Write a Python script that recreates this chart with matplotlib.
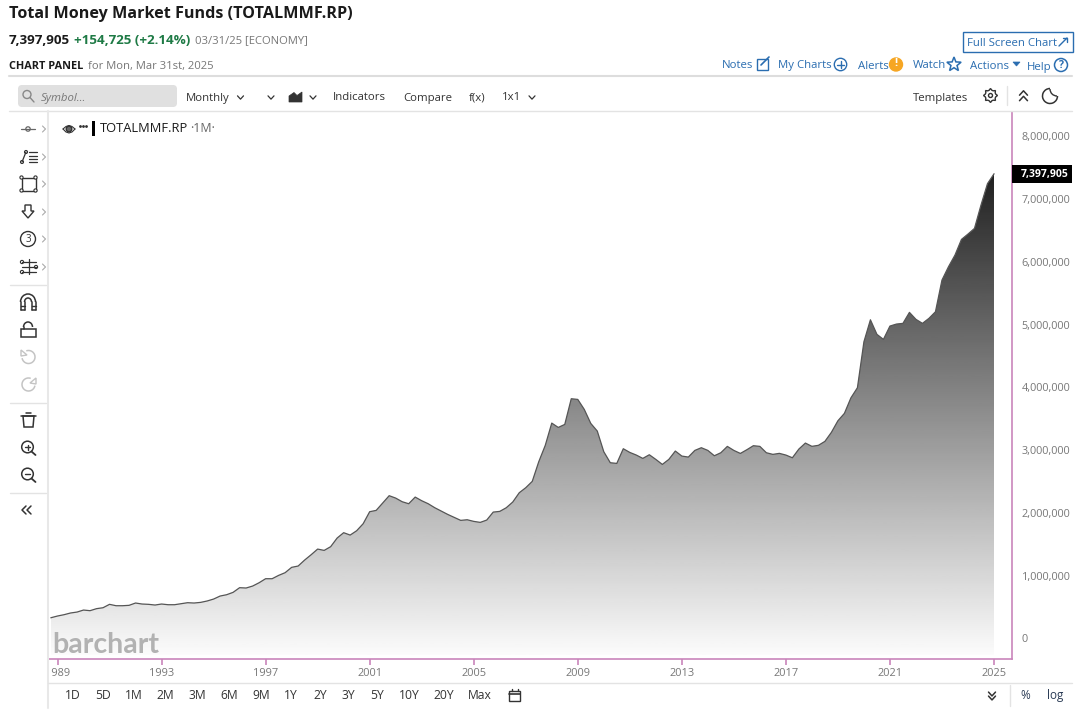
import matplotlib
matplotlib.use('Agg')
import matplotlib.pyplot as plt
import numpy as np
from matplotlib.patches import Rectangle, FancyBboxPatch, Circle, Polygon, Arc

plt.rcParams['font.family'] = ['Open Sans', 'DejaVu Sans']

W, H = 1080, 714

# quarterly values, thousands, 1988 Q4 to 2025 Q1
values_88_97 = [331, 358, 379, 406, 421, 453, 443, 475, 490, 544, 522, 522, 528, 565, 549, 544, 533, 549, 538, 538,
                554, 570, 565, 575, 597, 628, 676, 697, 735, 809, 804, 835, 888, 952, 952, 1005, 1048]
values_98_06 = [1133, 1154, 1249, 1334, 1424, 1403, 1462, 1600, 1685, 1647, 1716, 1828, 2019, 2040, 2157, 2274,
                2236, 2178, 2146, 2252, 2194, 2146, 2083, 2029, 1976, 1929, 1881, 1891, 1865, 1849, 1886, 2013,
                2024, 2082, 2173, 2321]
values_07_15 = [2401, 2502, 2815, 3075, 3430, 3361, 3409, 3818, 3807, 3648, 3425, 3303, 2974, 2799, 2788, 3022,
                2963, 2921, 2868, 2926, 2852, 2772, 2852, 2985, 2905, 2889, 2995, 3038, 2995, 2910, 2958, 3059,
                2995, 2947, 3006, 3070]
values_16_25 = [3059, 2958, 2932, 2948, 2921, 2878, 3017, 3112, 3060, 3076, 3139, 3283, 3467, 3585, 3832, 3993,
                4725, 5075, 4843, 4763, 4975, 5007, 5018, 5193, 5082, 5018, 5098, 5203, 5707, 5919, 6105, 6355,
                6440, 6530, 6901, 7243, 7397.905]
money_funds = np.array(values_88_97 + values_98_06 + values_07_15 + values_16_25) * 1000
start_year = 1988.75
years = start_year + np.arange(len(money_funds)) / 4

year_ticks = [1989, 1993, 1997, 2001, 2005, 2009, 2013, 2017, 2021, 2025]
price_ticks = [0, 1000000, 2000000, 3000000, 4000000, 5000000, 6000000, 7000000, 8000000]
range_buttons = ['1D', '5D', '1M', '2M', '3M', '6M', '9M', '1Y', '2Y', '3Y', '5Y', '10Y', '20Y', 'Max']
range_x = [73, 103, 134, 165, 197, 229, 261, 291, 320, 348, 377, 409, 444, 480]

PURPLE = '#c985bb'
BLUE = '#2a6db0'
INK = '#333333'

fig = plt.figure(figsize=(W / 100, H / 100), dpi=100, facecolor='white')

# main chart, placed in pixels
left, right, top, bottom = 49, 1012, 112, 658.5
ax = fig.add_axes([left / W, 1 - bottom / H, (right - left) / W, (bottom - top) / H])
px_year = 26.0
px_val = 62.8 / 1000000
ax.set_xlim(start_year - 2 / px_year, 2025 + 18 / px_year)
ax.set_ylim(-20 / px_val, (638.5 - top) / px_val)

# gradient under the line
grad = np.linspace(0.13, 0.985, 256).reshape(-1, 1)
im = ax.imshow(grad, cmap='gray', vmin=0, vmax=1, aspect='auto', origin='upper',
               extent=[years[0], years[-1], -264000, money_funds.max()], zorder=1)
verts = np.column_stack([np.r_[years[0], years, years[-1]], np.r_[-264000, money_funds, -264000]])
clip = Polygon(verts, closed=True, transform=ax.transData, facecolor='none', edgecolor='none')
ax.add_patch(clip)
im.set_clip_path(clip)
ax.plot(years, money_funds, color='#555555', lw=0.9, zorder=2)

for s in ['left', 'top']:
    ax.spines[s].set_visible(False)
for s in ['right', 'bottom']:
    ax.spines[s].set_color(PURPLE)
    ax.spines[s].set_linewidth(1.2)

ax.set_xticks(year_ticks)
ax.set_xticklabels([str(y) for y in year_ticks])
ax.set_yticks(price_ticks)
ax.set_yticklabels([f'{p:,}' for p in price_ticks])
ax.yaxis.tick_right()
ax.tick_params(axis='x', length=4, width=1.2, color=PURPLE, labelcolor='#777777', labelsize=7.9, pad=3)
ax.tick_params(axis='y', length=0, labelcolor='#777777', labelsize=7.8, pad=7)

# overlay in pixel coordinates for the page around the chart
ui = fig.add_axes([0, 0, 1, 1], facecolor='none')
ui.set_xlim(0, W)
ui.set_ylim(H, 0)
ui.axis('off')


def txt(x, y, s, size=8.3, color=INK, weight='normal', ha='left', style='normal', family=None):
    return ui.text(x, y + 4, s, fontsize=size, color=color, fontweight=weight, ha=ha, va='center',
                   style=style, family=family or plt.rcParams['font.family'])


def line(xs, ys, color=INK, lw=1.0):
    ui.plot(xs, ys, color=color, lw=lw, solid_capstyle='round')


def ring(x, y, r, color=INK, lw=1.0, fill='none'):
    ui.add_patch(Circle((x, y), r, facecolor=fill, edgecolor=color, lw=lw))


def chevron(x, y, s=3.0, color=INK, lw=0.9, up=False):
    d = -1 if up else 1
    line([x - s, x, x + s], [y - d * s * 0.55, y + d * s * 0.55, y - d * s * 0.55], color, lw)


def side(x, y, color='#aaaaaa'):
    line([x - 1.5, x + 1.5, x - 1.5], [y - 3, y, y + 3], color, 0.8)


# header
txt(9, 9.5, 'Total Money Market Funds (TOTALMMF.RP)', 11.65, '#1a1a1a', 'bold')
txt(9, 36.5, '7,397,905', 9.6, '#1a1a1a', 'bold')
txt(74, 36.5, '+154,725 (+2.14%)', 9.6, '#1e7a45', 'bold')
txt(195, 36.5, '03/31/25 [ECONOMY]', 8.1, '#777777')
txt(9, 62.5, 'CHART PANEL', 7.8, '#1a1a1a', 'bold')
txt(88, 62.5, 'for Mon, Mar 31st, 2025', 8.1, '#777777')

ui.add_patch(Rectangle((962.5, 31.5), 110, 20.5, facecolor='white', edgecolor=BLUE, lw=1))
txt(967, 39.5, 'Full Screen Chart', 8.2, BLUE)
line([1059, 1067], [46, 38], BLUE, 1)
line([1063, 1067, 1067], [38, 38, 42], BLUE, 1)

txt(722, 61.5, 'Notes', 8.2, BLUE)
ui.add_patch(Rectangle((756.5, 59), 11, 11, facecolor='none', edgecolor=BLUE, lw=1))
line([761, 769], [65, 57], BLUE, 1.2)
txt(778, 61.5, 'My Charts', 8.2, BLUE)
ring(840.5, 64.5, 6.2, BLUE, 1)
line([837, 844], [64.5, 64.5], BLUE, 1)
line([840.5, 840.5], [61, 68], BLUE, 1)
txt(858, 62.5, 'Alerts', 8.2, BLUE)
ring(896, 64.5, 6.5, '#f6a623', 1, '#f6a623')
txt(896, 60, '!', 8, 'white', 'bold', 'center')
txt(913, 61.5, 'Watch', 8.2, BLUE)
star_a = np.deg2rad(np.arange(-90, 270, 36))
star_r = np.where(np.arange(10) % 2 == 0, 7.5, 3.2)
ui.add_patch(Polygon(np.column_stack([954 + star_r * np.cos(star_a), 64.5 + star_r * np.sin(star_a)]),
                     closed=True, facecolor='none', edgecolor=BLUE, lw=1.1))
txt(970, 62.5, 'Actions', 8.2, BLUE)
ui.add_patch(Polygon([[1013, 62], [1020, 62], [1016.5, 66]], closed=True, facecolor=BLUE, edgecolor=BLUE, lw=0.5))
txt(1027, 63.5, 'Help', 8.2, BLUE)
ring(1061, 65, 6.5, BLUE, 1.1)
txt(1061, 61, '?', 7.5, BLUE, 'bold', 'center')

line([9, 1072], [76, 76], '#dddddd', 1.5)

# toolbar
ui.add_patch(FancyBboxPatch((20, 87), 155, 18, boxstyle='round,pad=2,rounding_size=4', facecolor='#e0e0e0', edgecolor='none'))
ring(27, 94.5, 4, '#888888', 1)
line([30, 34], [97.5, 102], '#888888', 1)
txt(41, 94, 'Symbol...', 8.2, '#777777', style='italic')
txt(186, 94, 'Monthly', 8.2)
chevron(240.5, 97.5)
chevron(271, 97.5)
ui.add_patch(Polygon([[289, 102], [289, 96], [294, 92.5], [297, 95.5], [302, 92], [302, 102]], closed=True, facecolor=INK, edgecolor=INK, lw=0.5))
chevron(313, 97.5)
txt(333, 94, 'Indicators', 8.2)
txt(403, 94, 'Compare', 8.2)
txt(469, 94, 'f(x)', 8.2)
txt(502, 94, '1x1', 8.2)
chevron(532, 97.5)
txt(913, 94, 'Templates', 8.2)
gear_a = np.deg2rad(np.arange(0, 360, 15))
gear_r = np.where(np.arange(24) % 3 == 0, 7, 5.4)
ui.add_patch(Polygon(np.column_stack([990.5 + gear_r * np.cos(gear_a), 95.5 + gear_r * np.sin(gear_a)]),
                     closed=True, facecolor='none', edgecolor=INK, lw=1))
ring(990.5, 95.5, 2, INK, 1)
line([1006.5, 1006.5], [86, 105], '#e3e3e3', 1)
chevron(1023.5, 93, 4, INK, 1.1, up=True)
chevron(1023.5, 98.5, 4, INK, 1.1, up=True)
ui.add_patch(Arc((1050, 96), 15, 15, theta1=0, theta2=270, color=INK, lw=1.1))
ui.add_patch(Arc((1057, 89), 14, 14, theta1=90, theta2=180, color=INK, lw=1.0))

# the first year label is cut by the tool column
ui.add_patch(Rectangle((30, 662), 17.5, 20, facecolor='white', edgecolor='none'))
line([9, 1072], [111, 111], '#e3e3e3', 1)
line([47.5, 47.5], [111, 708], '#e8e8e8', 1.5)
line([48, 1072], [683, 683], '#e3e3e3', 1)

# legend of the chart
ring(69, 129, 2.8, INK, 1.0, '#666666')
line([63, 66, 69, 72, 75], [129, 126.5, 125.5, 126.5, 129], INK, 0.8)
line([63, 66, 69, 72, 75], [129, 132, 133, 132, 129], INK, 0.8)
ui.plot([80, 83, 86], [126, 126, 126], ls='none', marker='o', ms=1.0, color=INK)
ui.add_patch(Rectangle((92, 121), 3, 15, facecolor='black', edgecolor='none'))
txt(100, 124.5, 'TOTALMMF.RP', 9.3, '#1a1a1a')
txt(190, 124.5, '\u00b71M\u00b7', 9.0, '#666666')

# left tools
line([21, 35], [129, 129], '#666666', 0.9)
ring(28, 129, 2.2, '#666666', 0.9, 'white')
line([22, 26], [162, 152], INK, 0.9)
ring(22, 162, 1.5, INK, 0.8, 'white')
ring(26, 152, 1.5, INK, 0.8, 'white')
for yy in [152, 155.5, 159, 162]:
    line([29, 37], [yy, yy], INK, 0.9)
ui.add_patch(Rectangle((21.5, 177.5), 14, 13, facecolor='none', edgecolor=INK, lw=1))
for cx, cy in [(21.5, 177.5), (35.5, 177.5), (21.5, 190.5), (35.5, 190.5)]:
    ring(cx, cy, 1.6, INK, 0.8, 'white')
ui.add_patch(Polygon([[25, 205], [31, 205], [31, 211], [34, 211], [28, 218], [22, 211], [25, 211]], closed=True, facecolor='none', edgecolor=INK, lw=1))
ring(28, 239, 7.5, INK, 1)
txt(28, 235, '3', 7, INK, ha='center')
for yy in [262, 267, 272]:
    line([22, 36], [yy, yy], INK, 0.9)
line([29, 29], [259, 274], INK, 0.9)
for sx, sy in [(22, 262), (22, 272), (36, 267)]:
    ring(sx, sy, 1.6, INK, 0.8, 'white')
for yy in [129, 157, 184, 212, 239, 267]:
    side(44, yy)
for yy in [285, 403, 493]:
    line([10, 46], [yy, yy], '#e3e3e3', 1)
# magnet
ui.add_patch(Arc((28, 302), 15, 16, theta1=180, theta2=360, color=INK, lw=1.1))
ui.add_patch(Arc((28, 302), 7, 8, theta1=180, theta2=360, color=INK, lw=1.1))
for xx in [20.5, 24.5, 31.5, 35.5]:
    line([xx, xx], [302, 310], INK, 1.1)
line([20.5, 24.5], [310, 310], INK, 1.1)
line([31.5, 35.5], [310, 310], INK, 1.1)
line([20.5, 24.5], [306, 306], INK, 1.0)
line([31.5, 35.5], [306, 306], INK, 1.0)
# lock
ui.add_patch(Rectangle((21, 329), 15, 8, facecolor='none', edgecolor=INK, lw=1.1))
ui.add_patch(Arc((28, 327), 9, 10, theta1=180, theta2=360, color=INK, lw=1.1))
line([23.5, 23.5], [327, 329], INK, 1.1)
# undo and redo
ui.add_patch(Arc((28.5, 357), 13, 13, theta1=-110, theta2=170, color='#c4c4c4', lw=1.1))
ui.add_patch(Polygon([[21, 350], [21, 356], [27, 355]], closed=True, facecolor='none', edgecolor='#c4c4c4', lw=1))
ui.add_patch(Arc((28.5, 384.5), 13, 13, theta1=10, theta2=290, color='#c4c4c4', lw=1.1))
ui.add_patch(Polygon([[36, 378], [36, 384], [30, 383]], closed=True, facecolor='none', edgecolor='#c4c4c4', lw=1))
# trash
ui.add_patch(Polygon([[23, 416], [34, 416], [33, 427], [24, 427]], closed=True, facecolor='none', edgecolor=INK, lw=1.1))
line([21, 36], [415.5, 415.5], INK, 1.1)
line([26, 31], [413, 413], INK, 1.1)
# zoom
for zy, zz in [(447, True), (474, False)]:
    ring(27.5, zy, 5.8, INK, 1.1)
    line([31.5, 35.5], [zy + 4.5, zy + 8], INK, 1.3)
    line([25, 30], [zy, zy], INK, 1)
    if zz:
        line([27.5, 27.5], [zy - 2.5, zy + 2.5], INK, 1)
for xx in [26, 31]:
    line([xx, xx - 4, xx], [506, 510, 514], INK, 1.1)

# price tag
ui.add_patch(Rectangle((1012, 165), 60, 18, facecolor='black', edgecolor='none'))
txt(1068.5, 170.5, '7,397,905', 7.5, 'white', 'bold', 'right')

# watermark
txt(52, 641, 'barchart', 20.5, '#b2b2b2', 'bold', family='Lato')

# range buttons
for lab, xx in zip(range_buttons, range_x):
    txt(xx, 691.5, lab, 8.7, INK, ha='center')
ui.add_patch(Rectangle((509, 691), 11, 10, facecolor='none', edgecolor=INK, lw=1))
line([509, 520], [694, 694], INK, 1.2)
line([511.5, 511.5], [689, 691], INK, 1)
line([517.5, 517.5], [689, 691], INK, 1)

chevron(992, 694, 3.5, INK, 1.1)
chevron(992, 698, 3.5, INK, 1.1)
line([1009.5, 1009.5], [685, 706], '#e3e3e3', 1)
txt(1025, 691.5, '%', 8.5, '#2a3b55', ha='center')
txt(1055, 691.5, 'log', 8.5, '#2a3b55', ha='center')

fig.savefig('out.png', dpi=100, facecolor='white')
